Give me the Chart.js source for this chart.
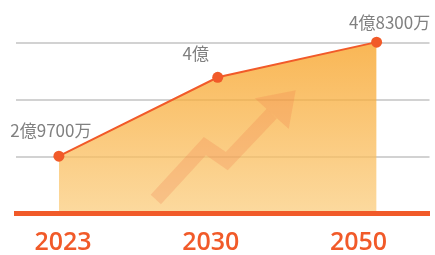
<!DOCTYPE html>
<html>
<head>
<meta charset="utf-8">
<script src="https://cdn.jsdelivr.net/npm/chart.js@4.4.1/dist/chart.umd.min.js"></script>
<style>
  html, body { margin: 0; padding: 0; background: #fff; }
  #wrap { width: 435px; height: 255px; }
</style>
</head>
<body>
<div id="wrap"><canvas id="chart"></canvas></div>
<script>
'use strict';

// --- data ---
const years = ['2023', '2030', '2050'];
const valueLabels = ['2億9700万', '4億', '4億8300万'];
// heights as drawn, in gridline steps (the picture is not to scale)
const levels = [1.01, 2.40, 3.02];
const gridSteps = [1, 2, 3];

const ORANGE = '#F15A29';

// label offsets from each point (px)
const labelOffsets = [[-8, -25.5], [-22, -23.5], [13, -20]];

// decorative arrow, in data units
const arrowShaft = [[0.61, 0.246], [0.919, 1.188], [1.057, 0.924], [1.34, 1.761]];
const arrowHead = [[1.491, 2.174], [1.233, 2.033], [1.447, 1.488]];

const arrowPlugin = {
  id: 'arrow',
  afterDatasetsDraw(chart) {
    const { ctx, scales: { x, y } } = chart;
    const px = p => [x.getPixelForValue(p[0]), y.getPixelForValue(p[1])];
    ctx.save();
    ctx.fillStyle = ctx.strokeStyle = 'rgba(235,115,70,0.22)';
    ctx.lineWidth = 14;
    ctx.lineCap = 'butt';
    ctx.lineJoin = 'miter';
    ctx.beginPath();
    arrowShaft.forEach((p, i) => {
      const [a, b] = px(p);
      i ? ctx.lineTo(a, b) : ctx.moveTo(a, b);
    });
    ctx.stroke();
    ctx.beginPath();
    arrowHead.forEach((p, i) => {
      const [a, b] = px(p);
      i ? ctx.lineTo(a, b) : ctx.moveTo(a, b);
    });
    ctx.closePath();
    ctx.fill();
    ctx.restore();
  }
};

const valueLabelPlugin = {
  id: 'valueLabels',
  afterDraw(chart) {
    const { ctx } = chart;
    const meta = chart.getDatasetMeta(0);
    ctx.save();
    ctx.font = '17px "Noto Sans CJK JP", "Noto Sans", sans-serif';
    ctx.fillStyle = '#808080';
    ctx.textAlign = 'center';
    ctx.textBaseline = 'middle';
    meta.data.forEach((pt, i) => {
      ctx.fillText(valueLabels[i], pt.x + labelOffsets[i][0], pt.y + labelOffsets[i][1]);
    });
    ctx.restore();
  }
};

function fillGradient(context) {
  const { chart } = context;
  const area = chart.chartArea;
  if (!area) return 'rgba(248,190,110,0.75)';
  const g = chart.ctx.createLinearGradient(0, area.top + 22, 0, area.bottom);
  g.addColorStop(0, 'rgba(247,158,28,0.75)');
  g.addColorStop(1, 'rgba(251,205,126,0.75)');
  return g;
}

new Chart(document.getElementById('chart'), {
  type: 'line',
  data: {
    datasets: [{
      data: levels.map((v, i) => ({ x: i, y: v })),
      xAxisID: 'x',
      yAxisID: 'y',
      borderColor: ORANGE,
      borderWidth: 2,
      pointRadius: 5.5,
      pointBackgroundColor: ORANGE,
      pointBorderWidth: 0,
      tension: 0,
      fill: 'origin',
      backgroundColor: fillGradient
    }]
  },
  options: {
    responsive: true,
    maintainAspectRatio: false,
    animation: false,
    layout: { padding: { left: 16, right: 5, top: 20, bottom: 0 } },
    plugins: {
      legend: { display: false },
      tooltip: { enabled: false }
    },
    scales: {
      x: { type: 'linear', min: -0.27, max: 2.333, display: false },
      xl: {
        type: 'linear',
        position: 'bottom',
        min: -0.318,
        max: 2.48,
        afterBuildTicks: s => { s.ticks = years.map((_, i) => ({ value: i })); },
        afterFit: s => { s.height = 41.5; },
        grid: { color: 'transparent', drawTicks: false },
        border: { display: true, color: ORANGE, width: 5, z: 1 },
        ticks: {
          padding: 14,
          color: ORANGE,
          font: { family: '"Open Sans", sans-serif', size: 25, weight: 600 },
          callback: v => years[v]
        }
      },
      y: {
        min: 0,
        max: 3.41,
        afterBuildTicks: s => { s.ticks = [0, ...gridSteps].map(v => ({ value: v })); },
        afterFit: s => { s.width = 0; },
        grid: {
          color: c => (c.tick && c.tick.value === 0 ? 'transparent' : '#d2d2d2'),
          lineWidth: 2,
          drawTicks: false
        },
        border: { display: false },
        ticks: { display: false }
      }
    }
  },
  plugins: [arrowPlugin, valueLabelPlugin]
});
</script>
</body>
</html>
